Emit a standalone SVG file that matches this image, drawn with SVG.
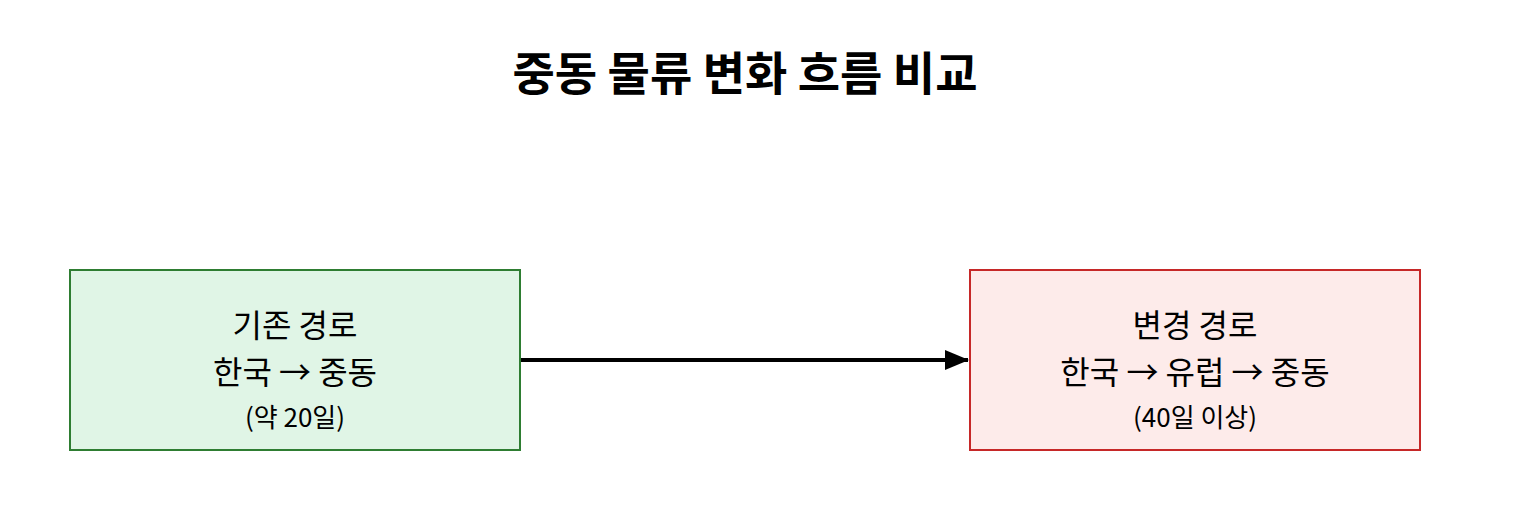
<svg xmlns="http://www.w3.org/2000/svg" width="1531" height="523" viewBox="0 0 1531 523">
<style>
text{font-family:"Noto Sans CJK KR","Noto Sans",sans-serif;text-anchor:middle;fill:#000}
.t{font-size:32px}.s{font-size:26px}
</style>
<defs><marker id="ah" viewBox="0 0 24 20" markerWidth="24" markerHeight="20" refX="23" refY="10" orient="auto" markerUnits="userSpaceOnUse"><path d="M0,0L24,10L0,20Z"/></marker></defs>
<rect width="1531" height="523" fill="#fff"/>
<text x="745" y="90" style="font-size:46px;font-weight:bold">중동 물류 변화 흐름 비교</text>
<g id="conn"><line x1="521" y1="360" x2="968" y2="360" stroke="#000" stroke-width="4" marker-end="url(#ah)"/></g>
<g id="n1"><rect x="70" y="270" width="450" height="180" fill="#e0f5e6" stroke="#2e7d32" stroke-width="2"/>
<text class="t" x="295" y="337">기존 경로</text><text class="t" x="295" y="384">한국 → 중동</text><text class="s" x="295" y="427">(약 20일)</text></g>
<g id="n2"><rect x="970" y="270" width="450" height="180" fill="#fdebea" stroke="#c62828" stroke-width="2"/>
<text class="t" x="1195" y="337">변경 경로</text><text class="t" x="1195" y="384">한국 → 유럽 → 중동</text><text class="s" x="1195" y="427">(40일 이상)</text></g>
</svg>
